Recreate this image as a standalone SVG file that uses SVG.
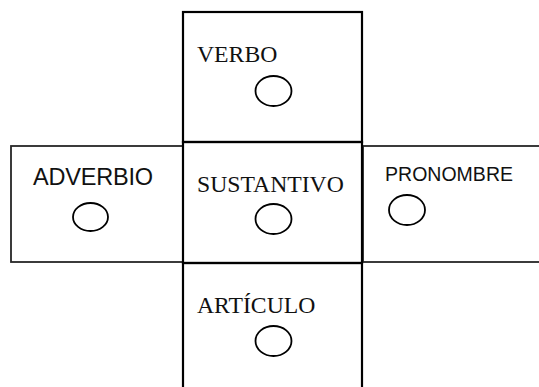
<svg xmlns="http://www.w3.org/2000/svg" width="539" height="387" viewBox="0 0 539 387">
<style>
.side{fill:#fff;stroke:#262626;stroke-width:1.8}
.col{fill:none;stroke:#000;stroke-width:2.2}
.serif{font-family:"Liberation Serif","Times New Roman",serif;font-size:23.7px;fill:#111}
.sans{font-family:"Liberation Sans",Arial,sans-serif;fill:#111}
.dot{fill:none;stroke:#000;stroke-width:1.8}
</style>
<rect width="539" height="387" fill="#fff"/>
<g id="adverbio">
<rect class="side" x="11" y="146" width="172" height="116"/>
<text class="sans" x="33" y="184.5" font-size="23.5" textLength="120">ADVERBIO</text>
<ellipse class="dot" cx="90.5" cy="217" rx="17.5" ry="14"/>
</g>
<g id="pronombre">
<rect class="side" x="363" y="146" width="190" height="116"/>
<text class="sans" x="385" y="181" font-size="19.5" textLength="128">PRONOMBRE</text>
<ellipse class="dot" cx="407" cy="210" rx="18" ry="15"/>
</g>
<g id="verbo">
<rect class="col" x="183" y="12" width="179" height="130"/>
<text class="serif" x="197" y="62">VERBO</text>
<ellipse class="dot" cx="273.5" cy="91" rx="18" ry="15"/>
</g>
<g id="sustantivo">
<rect class="col" x="183" y="142" width="179" height="121"/>
<text class="serif" x="197" y="192">SUSTANTIVO</text>
<ellipse class="dot" cx="273.5" cy="219" rx="18" ry="15"/>
</g>
<g id="articulo">
<rect class="col" x="183" y="263" width="179" height="140"/>
<text class="serif" x="197" y="313">ARTÍCULO</text>
<ellipse class="dot" cx="273.5" cy="341" rx="18" ry="15"/>
</g>
<g id="connectors"/>
</svg>
